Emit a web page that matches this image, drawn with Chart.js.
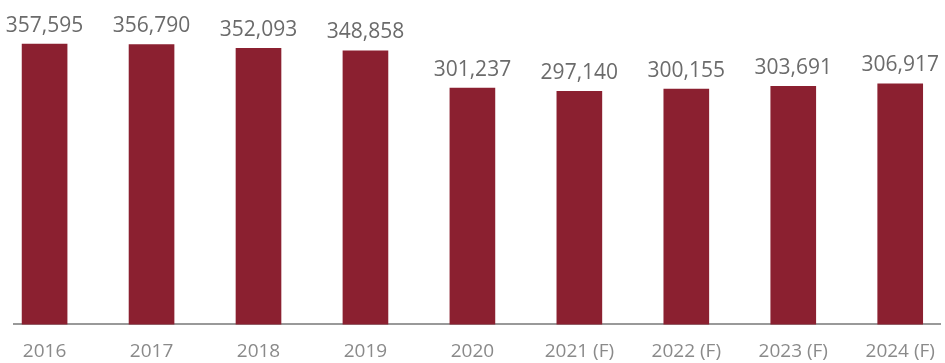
<!DOCTYPE html>
<html>
<head>
<meta charset="utf-8">
<script src="https://cdn.jsdelivr.net/npm/chart.js@4"></script>
<style>
  html, body { margin: 0; padding: 0; background: #fff; }
  #wrap { width: 945px; height: 363px; }
</style>
</head>
<body>
<div id="wrap"><canvas id="chart"></canvas></div>
<script>
// datos del grafico
const years = ['2016', '2017', '2018', '2019', '2020', '2021 (F)', '2022 (F)', '2023 (F)', '2024 (F)']
const values = [357595, 356790, 352093, 348858, 301237, 297140, 300155, 303691, 306917]

const barColor = '#8b2030'
const fmt = v => v.toLocaleString('en-US')

// etiquetas encima de las barras
const valueLabels = {
    id: 'valueLabels',
    afterDatasetsDraw(chart) {
        const ctx = chart.ctx
        const meta = chart.getDatasetMeta(0)
        ctx.save()
        ctx.font = '21px "Open Sans"'
        ctx.fillStyle = '#6b6b6b'
        ctx.textAlign = 'center'
        ctx.textBaseline = 'bottom'
        meta.data.forEach((bar, i) => {
            ctx.fillText(fmt(values[i]), bar.x, bar.y - 8)
        })
        ctx.restore()
    }
}

new Chart(document.getElementById('chart'), {
    type: 'bar',
    data: {
        datasets: [{
            data: values.map((v, i) => ({ x: i, y: v })),
            backgroundColor: barColor,
            barThickness: 45,
            clip: false
        }]
    },
    options: {
        responsive: true,
        maintainAspectRatio: false,
        animation: false,
        layout: { padding: { left: 14, right: 5, top: 0, bottom: 0 } },
        plugins: {
            legend: { display: false },
            tooltip: { enabled: false }
        },
        scales: {
            x: {
                type: 'linear',
                offset: false,
                min: -0.286,
                max: 8.372,
                grid: { display: false, drawTicks: true, tickLength: 16 },
                border: { display: true, color: '#999999', width: 2 },
                ticks: {
                    stepSize: 1,
                    includeBounds: false,
                    autoSkip: false,
                    maxRotation: 0,
                    padding: 0,
                    color: '#8a8a8a',
                    font: { family: 'Open Sans', size: 19 },
                    callback: v => Number.isInteger(v) ? (years[v] || '') : ''
                }
            },
            y: {
                display: false,
                min: 0,
                max: 413800
            }
        }
    },
    plugins: [valueLabels]
})
</script>
</body>
</html>
